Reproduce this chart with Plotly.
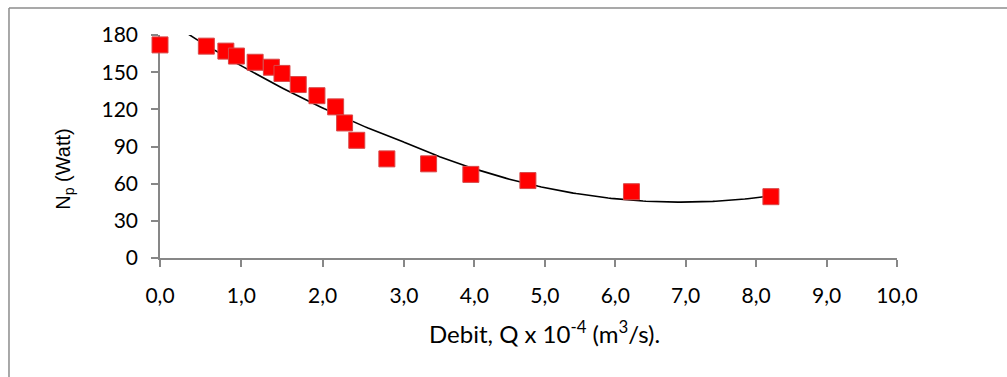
import numpy as np
import plotly.graph_objects as go

# Measured discharge (x 10^-4 m^3/s) and pump power (Watt)
debit = [0.00, 0.57, 0.81, 0.94, 1.17, 1.37, 1.50, 1.70, 1.93, 2.16, 2.27, 2.42, 2.79,
         3.35, 3.95, 4.76, 6.23, 8.21]
power = [172, 171, 167, 163, 158, 154, 149, 140, 131, 122, 109, 95, 80,
         76, 67.5, 62.5, 53.5, 49.5]

y_ticks = [0, 30, 60, 90, 120, 150, 180]
x_ticks_a = [0, 1, 2]
x_ticks_b = [3, 4, 5, 6, 7, 8, 9, 10]

# second-order polynomial trendline through the measurements
coef = np.polyfit(debit, power, 2)
xs = np.linspace(min(debit), max(debit), 200)
ys = np.polyval(coef, xs)

SPLIT = 3.0
DOM = 0.331
GRAY = "#878787"
FONT = "Lato"

fig = go.Figure()
for xa, keep in (("x", lambda v: v < SPLIT), ("x2", lambda v: v >= SPLIT)):
    fig.add_trace(go.Scatter(x=xs, y=ys, mode="lines", xaxis=xa, yaxis="y",
                             line=dict(color="black", width=1.6),
                             showlegend=False, hoverinfo="skip"))
    px = [d for d in debit if keep(d)]
    py = [p for d, p in zip(debit, power) if keep(d)]
    fig.add_trace(go.Scatter(x=px, y=py, mode="markers", xaxis=xa, yaxis="y",
                             marker=dict(symbol="square", size=16, color="#FF0000",
                                         line=dict(color="#D94848", width=1)),
                             cliponaxis=False, showlegend=False))

axis_common = dict(showline=True, linecolor=GRAY, linewidth=1.6, showgrid=False,
                   zeroline=False, ticks="outside", ticklen=7, tickcolor=GRAY,
                   tickwidth=1.6, tickformat=".1f", layer="below traces",
                   tickfont=dict(family=FONT, size=21, color="black"),
                   ticklabelstandoff=11)

# chart frame: only its top and left edges fall inside the page
frame = dict(color="#8C8C8C", width=1.5)

fig.update_layout(
    width=1007, height=377,
    margin=dict(l=160, r=110, t=35, b=119),
    paper_bgcolor="white", plot_bgcolor="white",
    separators=", ",
    xaxis=dict(domain=[0, DOM], range=[0, SPLIT], tickvals=x_ticks_a, anchor="y",
               **axis_common),
    xaxis2=dict(domain=[DOM, 1], range=[SPLIT, 10], tickvals=x_ticks_b, anchor="y",
                **axis_common),
    yaxis=dict(range=[0, 180], tickvals=y_ticks, showline=True, linecolor=GRAY,
               linewidth=1.6, showgrid=False, zeroline=False, ticks="outside",
               ticklen=7, tickcolor=GRAY, tickwidth=1.6, layer="below traces",
               tickfont=dict(family=FONT, size=21, color="black"),
               ticklabelstandoff=9),
    shapes=[
        dict(type="line", xref="paper", yref="paper", x0=-0.2049, x1=1.2,
             y0=1.121, y1=1.121, line=frame, layer="below"),
        dict(type="line", xref="paper", yref="paper", x0=-0.2049, x1=-0.2049,
             y0=-0.6, y1=1.121, line=frame, layer="below"),
    ],
    annotations=[
        dict(text="Debit, Q x 10<sup>-4</sup> (m<sup>3</sup>/s).", xref="paper", yref="paper",
             x=0.522, y=-0.33, xanchor="center", yanchor="middle", showarrow=False,
             font=dict(family=FONT, size=24, color="black")),
        dict(text="N<sub>p</sub> (Watt)", xref="paper", yref="paper",
             x=-0.129, y=0.40, xanchor="center", yanchor="middle", showarrow=False,
             textangle=-90, font=dict(family="Liberation Sans", size=20, color="black")),
    ],
)

fig.write_html("out.html")
